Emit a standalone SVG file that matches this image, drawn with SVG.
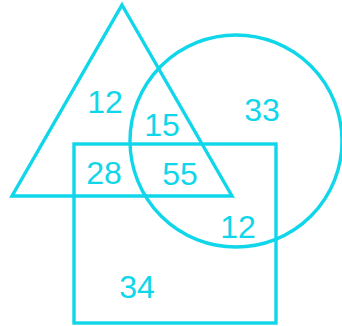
<svg xmlns="http://www.w3.org/2000/svg" width="342" height="326" viewBox="0 0 342 326">
<style>
.s{fill:none;stroke:#10d6ea;stroke-width:3.4}
text{font-family:"Liberation Sans",Arial,sans-serif;font-size:32px;fill:#10d6ea;text-anchor:middle}
</style>
<rect width="342" height="326" fill="#fff"/>
<g id="triangle"><polygon class="s" points="122,5 232,196 12,196"/></g>
<g id="circle"><circle class="s" cx="236" cy="141" r="106"/></g>
<g id="rectangle"><rect class="s" x="74" y="144" width="202" height="179"/></g>
<g id="labels">
<text x="105" y="113">12</text>
<text x="162" y="136">15</text>
<text x="262" y="121">33</text>
<text x="104" y="184">28</text>
<text x="180" y="185">55</text>
<text x="238" y="238">12</text>
<text x="137" y="298">34</text>
</g>
</svg>
